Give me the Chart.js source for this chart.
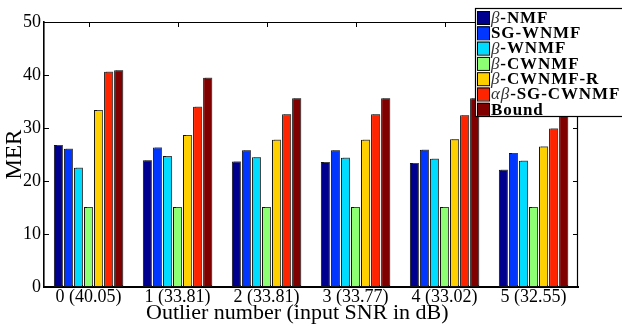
<!DOCTYPE html>
<html><head><meta charset="utf-8">
<script src="https://cdn.jsdelivr.net/npm/chart.js@4/dist/chart.umd.min.js"></script>
<style>html,body{margin:0;padding:0;background:#fff;}canvas{display:block;}</style>
</head><body>
<canvas id="c" width="622" height="327"></canvas>
<script>
const categories = ['0 (40.05)', '1 (33.81)', '2 (33.81)', '3 (33.77)', '4 (33.02)', '5 (32.55)'];
const seriesNames = ['β-NMF', 'SG-WNMF', 'β-WNMF', 'β-CWNMF', 'β-CWNMF-R', 'αβ-SG-CWNMF', 'Bound'];
const betaNMF   = [26.8, 23.9, 23.7, 23.6, 23.4, 22.1];
const sgWNMF    = [26.1, 26.3, 25.8, 25.8, 25.9, 25.3];
const betaWNMF  = [22.5, 24.7, 24.5, 24.4, 24.2, 23.8];
const betaCWNMF = [15.1, 15.1, 15.1, 15.1, 15.1, 15.1];
const betaCWNMFR = [33.4, 28.7, 27.8, 27.8, 27.9, 26.5];
const abSGCWNMF = [40.6, 34.0, 32.6, 32.6, 32.4, 29.9];
const bound     = [40.9, 39.5, 35.6, 35.6, 35.6, 32.3];
const yTicks = [0, 10, 20, 30, 40, 50];

const colors = ['#00008F', '#0036FF', '#00DCFF', '#8CFF73', '#FFD000', '#FF2400', '#800000'];
const allSeries = [betaNMF, sgWNMF, betaWNMF, betaCWNMF, betaCWNMFR, abSGCWNMF, bound];

const FONT = "'Liberation Serif', 'Times New Roman', serif";

const frame = {
  id: 'frame',
  beforeDatasetsDraw(chart) {
    const ctx = chart.ctx;
    ctx.save();
    ctx.shadowColor = 'rgba(90,90,90,0.75)';
    ctx.shadowOffsetX = 2;
    ctx.shadowOffsetY = -1;
    ctx.shadowBlur = 0;
  },
  afterDatasetsDraw(chart) {
    chart.ctx.restore();
    const {ctx, chartArea: a, scales} = chart;
    ctx.save();
    ctx.strokeStyle = '#000';
    ctx.lineWidth = 1.2;
    ctx.beginPath();
    ctx.moveTo(a.left, a.top + 0.5); ctx.lineTo(a.right, a.top + 0.5);
    ctx.moveTo(a.right - 0.5, a.top); ctx.lineTo(a.right - 0.5, a.bottom);
    ctx.stroke();
    ctx.lineWidth = 1;
    ctx.beginPath();
    yTicks.forEach(v => {
      const y = Math.round(scales.y.getPixelForValue(v)) + 0.5;
      ctx.moveTo(a.left, y); ctx.lineTo(a.left + 5, y);
      ctx.moveTo(a.right, y); ctx.lineTo(a.right - 5, y);
    });
    categories.forEach((c, i) => {
      const x = Math.round(scales.x.getPixelForValue(i)) + 0.5;
      ctx.moveTo(x, a.top); ctx.lineTo(x, a.top + 5);
    });
    ctx.stroke();
    ctx.restore();
  },
  afterDraw(chart) {
    const ctx = chart.ctx;
    ctx.save();
    const bx = 475, by = 8, bw = 152, bh = 108;
    ctx.fillStyle = '#fff';
    ctx.fillRect(bx, by, bw, bh);
    ctx.strokeStyle = '#000';
    ctx.lineWidth = 1.2;
    ctx.strokeRect(bx + 0.5, by + 0.5, bw, bh);
    const rowH = 15.3;
    chart.data.datasets.forEach((ds, i) => {
      const y0 = by + 2 + i * rowH;
      ctx.fillStyle = ds.backgroundColor;
      ctx.fillRect(bx + 2, y0 + 1, 12, 13);
      ctx.lineWidth = 1;
      ctx.strokeStyle = '#000';
      ctx.strokeRect(bx + 2.5, y0 + 1.5, 12, 13);
      let x = bx + 16;
      ctx.textBaseline = 'middle';
      ctx.letterSpacing = '0.9px';
      for (const ch of ds.label) {
        const greek = /[α-ω]/.test(ch);
        ctx.font = greek ? "italic 17px " + FONT : "bold 17px " + FONT;
        ctx.fillStyle = greek ? '#333' : '#000';
        ctx.fillText(ch, x, y0 + 8.5);
        x += ctx.measureText(ch).width;
      }
    });
    ctx.restore();
  }
};

new Chart(document.getElementById('c'), {
  type: 'bar',
  data: {
    labels: categories,
    datasets: allSeries.map((d, i) => ({
      label: seriesNames[i],
      data: d,
      backgroundColor: colors[i],
      borderColor: '#111',
      borderWidth: 1,
      borderSkipped: false,
      categoryPercentage: 0.79,
      barPercentage: 0.9
    }))
  },
  options: {
    responsive: false,
    animation: false,
    layout: { padding: { top: 22, right: 44, left: 0, bottom: 0 } },
    plugins: { legend: { display: false }, tooltip: { enabled: false } },
    scales: {
      x: {
        offset: true,
        grid: { display: false, drawTicks: false },
        border: { display: true, color: '#000', width: 2 },
        ticks: { color: '#000', font: { family: FONT, size: 18, lineHeight: 1.0 }, padding: 1, maxRotation: 0 },
        title: { display: true, text: 'Outlier number (input SNR in dB)' + '\u00A0'.repeat(5), color: '#000',
                 font: { family: FONT, size: 22, lineHeight: 1.0 }, padding: { top: 0, bottom: 3 } },
        afterFit(s) { s.height = 40; }
      },
      y: {
        min: 0, max: 50,
        afterBuildTicks(s) { s.ticks = yTicks.map(v => ({ value: v })); },
        grid: { display: false, drawTicks: false },
        border: { display: true, color: '#000', width: 1.6 },
        ticks: { color: '#000', font: { family: FONT, size: 18 }, padding: 3 },
        title: { display: true, text: 'MER', color: '#000',
                 font: { family: FONT, size: 23, lineHeight: 1.1 }, padding: { top: 2, bottom: 0 } },
        afterFit(s) { s.width = 44; }
      }
    }
  },
  plugins: [frame]
});
</script>
</body></html>
